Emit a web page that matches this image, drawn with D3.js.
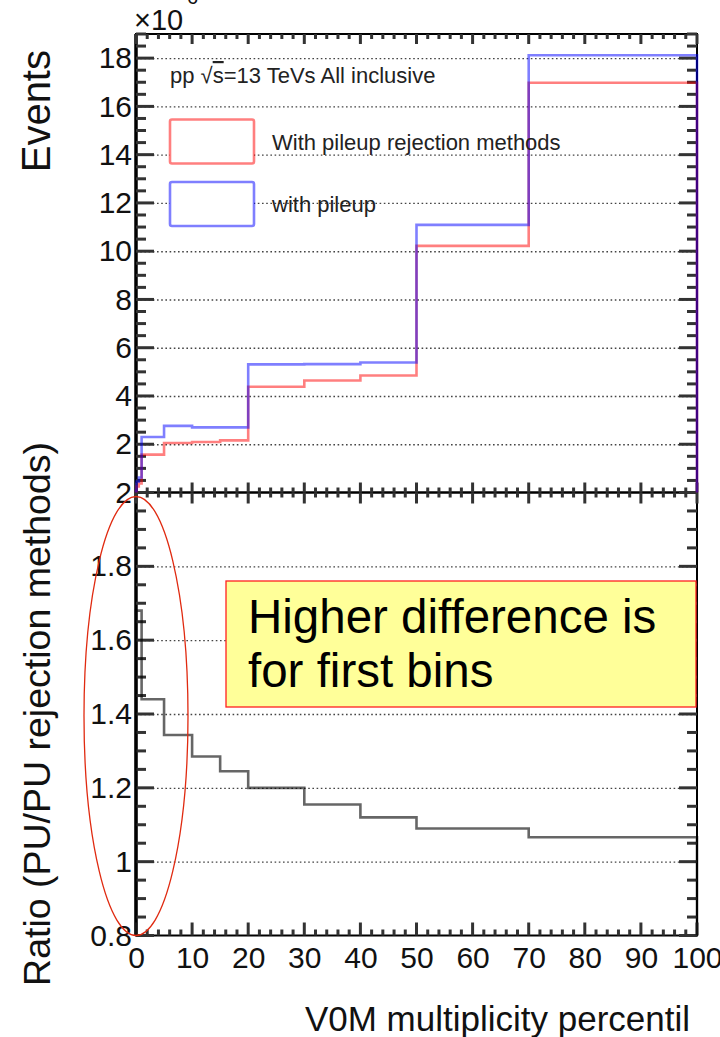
<!DOCTYPE html>
<html>
<head>
<meta charset="utf-8">
<script src="https://cdn.jsdelivr.net/npm/d3@7"></script>
<style>
html,body{margin:0;padding:0;background:#fff;}
svg{display:block;font-family:"Liberation Sans",Arial,Helvetica,sans-serif;}
</style>
</head>
<body>
<svg id="chart" width="720" height="1037"></svg>
<script>
// ---- data ----
const binEdges = [0, 0.1, 0.5, 1, 5, 10, 15, 20, 30, 40, 50, 70, 100];
const eventsRejected = [0.05, 0.25, 0.37, 1.57, 2.05, 2.09, 2.16, 4.38, 4.64, 4.85, 10.22, 16.98]; // x10^6, red
const eventsPileup   = [0.08, 0.45, 0.62, 2.30, 2.76, 2.70, 2.70, 5.31, 5.32, 5.39, 11.09, 18.12]; // x10^6, blue
const ratioValues    = [1.68, 1.68, 1.68, 1.44, 1.343, 1.285, 1.245, 1.20, 1.155, 1.12, 1.09, 1.066];
const xTickValues = [0, 10, 20, 30, 40, 50, 60, 70, 80, 90, 100];
const yTopTickValues = [2, 4, 6, 8, 10, 12, 14, 16, 18];
const yBotTickValues = [0.8, 1, 1.2, 1.4, 1.6, 1.8, 2];
const yBotTickLabels = ["0.8", "1", "1.2", "1.4", "1.6", "1.8", "2"];
const legendLabels = ["With pileup rejection methods", "with pileup"];
const annotationLines = ["Higher difference is", "for first bins"];

const svg = d3.select("#chart");
const L = 136, R = 697, T = 34, M = 492.5, B = 935.5;

const x = d3.scaleLinear([0, 100], [L, R]);
const yTop = d3.scaleLinear([0, 19], [M, T]);
const yBot = d3.scaleLinear([0.8, 2.0], [B, M]);

const xMinor = d3.range(0, 101, 2).filter(v => v % 10 !== 0);
const yTopMinor = d3.range(0.5, 19.01, 0.5).filter(v => Math.abs(v / 2 - Math.round(v / 2)) > 1e-6);
const yBotMinor = d3.range(0.8, 2.001, 0.05).map(v => +v.toFixed(2)).filter(v => Math.abs(v / 0.2 - Math.round(v / 0.2)) > 1e-6);

const defs = svg.append("defs");
defs.append("clipPath").attr("id", "clipTop").append("rect").attr("x", L - 2).attr("y", T).attr("width", R - L + 4).attr("height", M - T + 1);
defs.append("clipPath").attr("id", "clipBot").append("rect").attr("x", L - 2).attr("y", M).attr("width", R - L + 4).attr("height", B - M);

// ---- grids ----
function grid(scale, vals) {
  const g = svg.append("g").attr("transform", `translate(${L},0)`)
    .call(d3.axisLeft(scale).tickValues(vals).tickSizeInner(-(R - L)).tickSizeOuter(0).tickFormat(() => ""));
  g.select(".domain").remove();
  g.selectAll(".tick line").attr("stroke", "#444").attr("stroke-width", 1.4).attr("stroke-dasharray", "1.6 2.6");
}
grid(yTop, yTopTickValues);
grid(yBot, [1, 1.2, 1.4, 1.6, 1.8]);

// ---- frames ----
const frame = svg.append("g").attr("fill", "none").attr("stroke", "#000").attr("stroke-width", 2);
frame.append("rect").attr("x", L).attr("y", T).attr("width", R - L).attr("height", M - T);
frame.append("rect").attr("x", L).attr("y", M).attr("width", R - L).attr("height", B - M);
frame.append("line").attr("x1", L).attr("x2", L).attr("y1", T).attr("y2", B).attr("stroke-width", 3.5);

// ---- tick marks (from the scales) ----
const tickSpecs = [];
[[yTop, yTopTickValues, yTopMinor], [yBot, yBotTickValues, yBotMinor]].forEach(([s, maj, min]) => {
  maj.forEach(v => tickSpecs.push({o: "y", p: s(v), a: L, len: 18}));
  min.forEach(v => tickSpecs.push({o: "y", p: s(v), a: L, len: 10}));
  maj.forEach(v => tickSpecs.push({o: "y", p: s(v), a: R, len: -18}));
  min.forEach(v => tickSpecs.push({o: "y", p: s(v), a: R, len: -10}));
});
[[T, 10, 5], [M, -10, -5], [M, 11, 5], [B, -13, -6]].forEach(([yy, lm, ln]) => {
  xTickValues.forEach(v => tickSpecs.push({o: "x", p: x(v), a: yy, len: lm}));
  xMinor.forEach(v => tickSpecs.push({o: "x", p: x(v), a: yy, len: ln}));
});
svg.append("g").attr("id", "tickmarks").selectAll("line").data(tickSpecs).join("line")
  .attr("x1", d => d.o === "y" ? d.a : d.p)
  .attr("x2", d => d.o === "y" ? d.a + d.len : d.p)
  .attr("y1", d => d.o === "y" ? d.p : d.a)
  .attr("y2", d => d.o === "y" ? d.p : d.a + d.len)
  .style("stroke", "#333")
  .style("stroke-width", "3px");

// ---- tick labels via d3 axes ----
function yLabels(scale, vals, fmt) {
  const g = svg.append("g").attr("transform", `translate(${L},0)`)
    .call(d3.axisLeft(scale).tickValues(vals).tickSize(0).tickPadding(4).tickFormat(fmt));
  g.select(".domain").remove();
  g.selectAll(".tick line").remove();
  g.selectAll("text").attr("font-size", 30).attr("fill", "#111").attr("font-family", "Liberation Sans, Arial, sans-serif");
}
yLabels(yTop, yTopTickValues, d3.format("d"));
yLabels(yBot, yBotTickValues, (d, i) => yBotTickLabels[i]);
{
  const g = svg.append("g").attr("transform", `translate(0,${B})`)
    .call(d3.axisBottom(x).tickValues(xTickValues).tickSize(0).tickPadding(11).tickFormat(d3.format("d")));
  g.select(".domain").remove();
  g.selectAll(".tick line").remove();
  g.selectAll("text").attr("font-size", 30).attr("fill", "#111").attr("font-family", "Liberation Sans, Arial, sans-serif");
}

// ---- histograms ----
function stepPoints(edges, vals, base) {
  const pts = [[edges[0], base]];
  vals.forEach((v, i) => { pts.push([edges[i], v]); pts.push([edges[i + 1], v]); });
  pts.push([edges[edges.length - 1], base]);
  return pts;
}
const lineTop = d3.line().x(d => x(d[0])).y(d => yTop(d[1]));
const lineBot = d3.line().x(d => x(d[0])).y(d => yBot(d[1]));

svg.append("path").attr("clip-path", "url(#clipTop)")
  .attr("d", lineTop(stepPoints(binEdges, eventsRejected, 0)))
  .attr("fill", "none").attr("stroke", "#ff0000").attr("stroke-opacity", 0.5).attr("stroke-width", 2.6);
svg.append("path").attr("clip-path", "url(#clipTop)")
  .attr("d", lineTop(stepPoints(binEdges, eventsPileup, 0)))
  .attr("fill", "none").attr("stroke", "#0000ff").attr("stroke-opacity", 0.5).attr("stroke-width", 2.6);
svg.append("path").attr("clip-path", "url(#clipBot)")
  .attr("d", lineBot(stepPoints(binEdges, ratioValues, 0.8)))
  .attr("fill", "none").attr("stroke", "#000").attr("stroke-opacity", 0.6).attr("stroke-width", 2.6);

// ---- legend ----
svg.append("text").attr("x", 170).attr("y", 83).attr("font-size", 22).attr("fill", "#222")
  .call(t => {
    t.append("tspan").text("pp ");
    t.append("tspan").text("√");
    t.append("tspan").attr("text-decoration", "overline").text("s");
    t.append("tspan").text("=13 TeVs All inclusive");
  });
const legendColors = ["#ff0000", "#0000ff"];
const legendY = [119.5, 182];
legendLabels.forEach((lab, i) => {
  svg.append("rect").attr("x", 170).attr("y", legendY[i]).attr("width", 84).attr("height", 44).attr("rx", 2)
    .attr("fill", "#fff").attr("stroke", legendColors[i]).attr("stroke-opacity", 0.5).attr("stroke-width", 2.6);
  svg.append("text").attr("x", 272).attr("y", legendY[i] + 30).attr("font-size", 22).attr("fill", "#222").text(lab);
});

// ---- exponent ----
svg.append("text").attr("x", 134).attr("y", 30).attr("font-size", 29).attr("fill", "#111").text("×10");
svg.append("text").attr("x", 187).attr("y", 4).attr("font-size", 20).attr("fill", "#111").text("6");

// ---- axis titles ----
svg.append("text").attr("transform", "translate(50,50) rotate(-90)").attr("text-anchor", "end")
  .attr("font-size", 40).attr("fill", "#111").text("Events");
svg.append("text").attr("transform", "translate(50,442) rotate(-90)").attr("text-anchor", "end")
  .attr("font-size", 37.5).attr("fill", "#111").text("Ratio (PU/PU rejection methods)");
svg.append("text").attr("x", 690).attr("y", 1031).attr("text-anchor", "end")
  .attr("font-size", 35).attr("fill", "#111").text("V0M multiplicity percentil");

// ---- annotation ----
svg.append("rect").attr("x", 226).attr("y", 581).attr("width", 470).attr("height", 126)
  .attr("fill", "#ffff99").attr("stroke", "#ff2020").attr("stroke-width", 1.3);
annotationLines.forEach((s, i) => {
  svg.append("text").attr("x", 248).attr("y", 633 + i * 54).attr("font-size", 47.5).attr("fill", "#000").text(s);
});
svg.append("ellipse").attr("cx", 136).attr("cy", 716).attr("rx", 52).attr("ry", 219.5)
  .attr("fill", "none").attr("stroke", "#e02a10").attr("stroke-width", 1.3);
</script>
</body>
</html>
